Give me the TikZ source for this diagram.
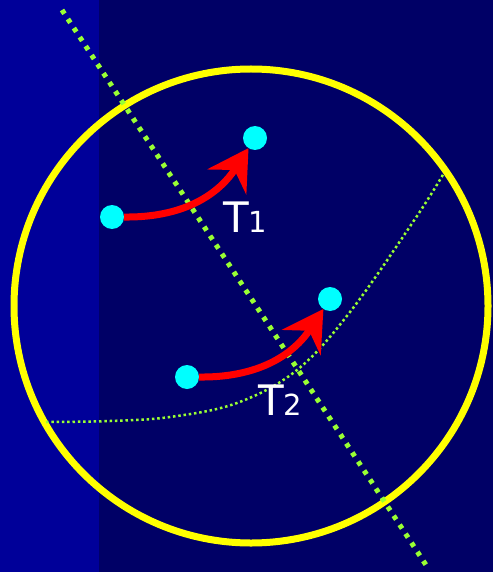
\documentclass[tikz,border=0pt]{standalone}
\usepackage{fontspec}
\setsansfont{DejaVu Sans}
\usetikzlibrary{arrows.meta}
\definecolor{bgnavy}{HTML}{000066}
\definecolor{bgstrip}{HTML}{000099}
\definecolor{ringyellow}{HTML}{FFFF00}
\definecolor{limegreen}{HTML}{99FF33}
\definecolor{dotcyan}{HTML}{00FFFF}
\tikzset{
  % punti e frecce
  node pt/.style={circle,fill=dotcyan,minimum size=24,inner sep=0,outer sep=0},
  move arrow/.style={-{Stealth[length=40pt 0,width=46pt 0,inset=14pt 0]},line width=7pt,red},
  % linee tratteggiate
  cut line/.style={limegreen,line width=5,dash pattern=on 4.5 off 6.3},
  front line/.style={limegreen,line width=2.5,dash pattern=on 2.5 off 2.8},
  label txt/.style={white,font=\sffamily\fontsize{42}{42}\selectfont,inner sep=0,anchor=base west}
}
\newcommand{\idx}[1]{{\fontsize{29}{29}\selectfont #1}}
\begin{document}
\begin{tikzpicture}[x=1pt,y=-1pt]
  \useasboundingbox (0,0) rectangle (493,572);
  \fill[bgnavy] (0,0) rectangle (493,572);
  \fill[bgstrip] (0,0) rectangle (99,572);
  % regione
  \draw[ringyellow,line width=7] (251,306) circle (237);
  \coordinate (cut top) at (62,10);
  \coordinate (cut bot) at (428,568);
  \draw[cut line] (cut top) -- (cut bot);
  \draw[front line] plot[smooth,tension=0.6] coordinates
    {(46,422) (110,421) (170,417) (237,403) (297,370) (350,312) (415,219) (444,173)};
  % traslazioni
  \node[node pt] (a1) at (112,217) {};
  \node[node pt] (b1) at (255,138) {};
  \node[node pt] (a2) at (187,377) {};
  \node[node pt] (b2) at (330,299) {};
  \draw[move arrow] (a1.east) .. controls (200,218) and (228,180) .. (b1);
  \draw[move arrow] (a2.east) .. controls (275,378) and (303,340) .. (b2);
  \node[label txt] (t1) at (223,232) {T\idx{1}};
  \node[label txt] (t2) at (258,415) {T\idx{2}};
\end{tikzpicture}
\end{document}
